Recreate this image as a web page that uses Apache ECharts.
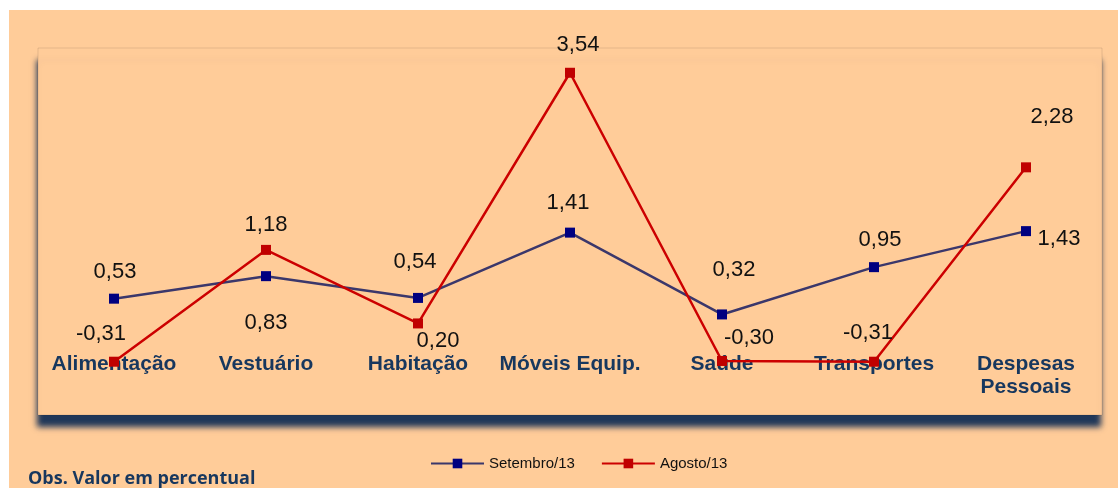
<!DOCTYPE html>
<html>
<head>
<meta charset="utf-8">
<script src="https://cdn.jsdelivr.net/npm/echarts@6/dist/echarts.min.js"></script>
<style>
html,body{margin:0;padding:0;background:#ffffff;}
#c{width:1118px;height:488px;}
</style>
</head>
<body>
<div id="c"></div>
<script>
const categories = ['Alimentação','Vestuário','Habitação','Móveis Equip.','Saúde','Transportes','Despesas\nPessoais'];
const setembro = [0.53, 0.83, 0.54, 1.41, 0.32, 0.95, 1.43];
const agosto = [-0.31, 1.18, 0.20, 3.54, -0.30, -0.31, 2.28];
const seriesNames = ['Setembro/13', 'Agosto/13'];
const noteText = 'Obs. Valor em percentual';

// label placement (pixel offsets from each marker) – layout only
const setLabelOffsets = [[1,-27],[0,47],[-3,-36],[-2,-30],[12,-44],[6,-27],[33,8]];
const agoLabelOffsets = [[-13,-28],[0,-25],[20,17],[8,-28],[27,-23],[-6,-29],[26,-50]];

const fmt = v => v.toFixed(2).replace('.', ',');

function buildData(values, offsets) {
  return values.map((v, i) => ({
    value: v,
    label: { offset: offsets[i] }
  }));
}

const chart = echarts.init(document.getElementById('c'), null, {renderer: 'canvas'});

const labelBase = {
  show: true,
  position: 'inside',
  color: '#111111',
  fontFamily: 'Liberation Sans, Arial, sans-serif',
  fontSize: 22,
  formatter: p => fmt(p.value)
};

chart.setOption({
  backgroundColor: '#ffffff',
  animation: false,
  graphic: [
    { type: 'rect', z: -10, shape: { x: 9, y: 10, width: 1109, height: 478 }, style: { fill: '#FFCC99' } },
    { type: 'text', z: 10, left: 28, top: 470, style: { text: noteText, fill: '#17375E', font: 'bold 18px "Open Sans", "Noto Sans", sans-serif' } }
  ],
  grid: {
    left: 38, right: 16, top: 48, bottom: 73,
    show: true,
    backgroundColor: '#FFCC99',
    borderColor: 'rgba(0,0,0,0.10)',
    borderWidth: 1,
    shadowColor: 'rgba(28,52,88,0.98)',
    shadowBlur: 6,
    shadowOffsetX: -1,
    shadowOffsetY: 12
  },
  legend: {
    data: seriesNames,
    left: 425,
    top: 451,
    itemWidth: 53,
    itemHeight: 12,
    itemGap: 26,
    textStyle: { color: '#111111', fontFamily: 'Liberation Sans, Arial, sans-serif', fontSize: 15 }
  },
  xAxis: {
    type: 'category',
    data: categories,
    boundaryGap: true,
    position: 'bottom',
    offset: -76,
    axisLine: { show: false, onZero: false },
    axisTick: { show: false },
    splitLine: { show: false },
    axisLabel: {
      margin: 14,
      interval: 0,
      color: '#17375E',
      fontWeight: 'bold',
      fontSize: 21,
      lineHeight: 23,
      fontFamily: 'Liberation Sans, Arial, sans-serif'
    }
  },
  yAxis: {
    type: 'value',
    min: -1.02,
    max: 3.87,
    show: false,
    splitLine: { show: false }
  },
  series: [
    {
      name: seriesNames[0],
      type: 'line',
      data: buildData(setembro, setLabelOffsets),
      symbol: 'rect',
      symbolSize: 10,
      lineStyle: { color: '#3B376B', width: 2.5 },
      itemStyle: { color: '#000080' },
      label: labelBase,
      z: 3
    },
    {
      name: seriesNames[1],
      type: 'line',
      data: buildData(agosto, agoLabelOffsets),
      symbol: 'rect',
      symbolSize: 10,
      lineStyle: { color: '#CC0000', width: 2.5 },
      itemStyle: { color: '#C00000' },
      label: labelBase,
      z: 4
    }
  ]
});
</script>
</body>
</html>
